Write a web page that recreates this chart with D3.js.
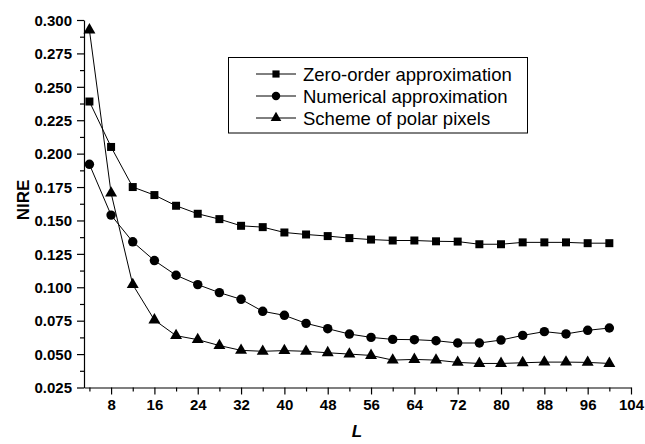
<!DOCTYPE html>
<html>
<head>
<meta charset="UTF-8">
<style>
  body { margin: 0; background: #fff; }
  svg { display: block; }
  text { font-family: "Liberation Sans", Arial, sans-serif; }
</style>
</head>
<body>
<svg></svg>
<script src="https://d3js.org/d3.v7.min.js"></script>
<script>

let width = 645, height = 444;

// data
let Lvals = [4, 8, 12, 16, 20, 24, 28, 32, 36, 40, 44, 48, 52, 56, 60, 64, 68, 72, 76, 80, 84, 88, 92, 96, 100];
let zeroOrder = [0.239, 0.205, 0.175, 0.169, 0.161, 0.155, 0.151, 0.146, 0.145, 0.141, 0.1395, 0.1383, 0.1368, 0.1357, 0.135, 0.135, 0.1344, 0.1342, 0.1322, 0.1322, 0.1336, 0.1336, 0.1336, 0.133, 0.133];
let numerical = [0.192, 0.154, 0.134, 0.120, 0.109, 0.102, 0.096, 0.091, 0.082, 0.079, 0.073, 0.069, 0.065, 0.0625, 0.061, 0.0608, 0.060, 0.0583, 0.0583, 0.0605, 0.064, 0.0668, 0.0651, 0.0678, 0.0695];
let polar = [0.2925, 0.1705, 0.102, 0.0755, 0.0638, 0.0608, 0.0564, 0.0528, 0.0521, 0.0526, 0.0521, 0.051, 0.050, 0.049, 0.0455, 0.046, 0.0455, 0.0438, 0.043, 0.043, 0.0435, 0.044, 0.044, 0.0438, 0.043];

let seriesNames = ["Zero-order approximation", "Numerical approximation", "Scheme of polar pixels"];
let xTicks = [8, 16, 24, 32, 40, 48, 56, 64, 72, 80, 88, 96, 104];
let xMinor = [4, 12, 20, 28, 36, 44, 52, 60, 68, 76, 84, 92, 100];
let yTicks = [0.025, 0.050, 0.075, 0.100, 0.125, 0.150, 0.175, 0.200, 0.225, 0.250, 0.275, 0.300];
let yMinor = [0.0375, 0.0625, 0.0875, 0.1125, 0.1375, 0.1625, 0.1875, 0.2125, 0.2375, 0.2625, 0.2875];

let svg = d3.select("svg")
    .attr("width", width)
    .attr("height", height);

let x = d3.scaleLinear().domain([3, 104]).range([84, 631]);
let y = d3.scaleLinear().domain([0.025, 0.300]).range([387.5, 20]);

// minor ticks first, then major axes on top
svg.append("g")
    .attr("transform", "translate(0,387.5)")
    .call(d3.axisBottom(x).tickValues(xMinor).tickSize(4).tickFormat(""))
    .call(g => g.select(".domain").remove());

svg.append("g")
    .attr("transform", "translate(84,0)")
    .call(d3.axisLeft(y).tickValues(yMinor).tickSize(4).tickFormat(""))
    .call(g => g.select(".domain").remove());

let xAxis = svg.append("g")
    .attr("transform", "translate(0,387.5)")
    .call(d3.axisBottom(x).tickValues(xTicks).tickSize(7).tickSizeOuter(0).tickPadding(5).tickFormat(d3.format("d")));

let yAxis = svg.append("g")
    .attr("transform", "translate(84,0)")
    .call(d3.axisLeft(y).tickValues(yTicks).tickSize(7).tickSizeOuter(0).tickPadding(5).tickFormat(d3.format(".3f")));

svg.selectAll(".tick line, .domain").attr("stroke", "#000").attr("stroke-width", 1.2);
svg.selectAll(".tick text")
    .attr("fill", "#000")
    .style("font-size", "15px")
    .style("font-weight", "bold")
    .style("font-family", "'Liberation Sans', Arial, sans-serif");
yAxis.selectAll(".tick text").attr("dy", "0.35em");

// axis titles
svg.append("text")
    .attr("transform", "translate(29,200) rotate(-90)")
    .attr("text-anchor", "middle")
    .style("font-size", "17px")
    .style("font-weight", "bold")
    .text("NIRE");

svg.append("text")
    .attr("x", 357)
    .attr("y", 437)
    .attr("text-anchor", "middle")
    .style("font-size", "17px")
    .style("font-weight", "bold")
    .style("font-style", "italic")
    .text("L");

let symbols = [d3.symbolSquare, d3.symbolCircle, d3.symbolTriangle];
let sizes = [64, 70, 62];
let allSeries = [zeroOrder, numerical, polar];

let line = d3.line()
    .x((d, i) => x(Lvals[i]))
    .y(d => y(d));

allSeries.forEach((vals, k) => {
  svg.append("path")
      .datum(vals)
      .attr("d", line)
      .attr("fill", "none")
      .attr("stroke", "#000")
      .attr("stroke-width", 1);

  svg.append("g")
      .selectAll("path")
      .data(vals)
      .enter()
      .append("path")
      .attr("transform", (d, i) => "translate(" + x(Lvals[i]) + "," + y(d) + ")")
      .attr("d", d3.symbol().type(symbols[k]).size(sizes[k]))
      .attr("fill", "#000");
});

// legend
let legend = svg.append("g");
legend.append("rect")
    .attr("x", 228.5)
    .attr("y", 57.5)
    .attr("width", 299)
    .attr("height", 75.5)
    .attr("fill", "#fff")
    .attr("stroke", "#000")
    .attr("stroke-width", 1);

seriesNames.forEach((name, k) => {
  let ly = 74 + k * 22;
  legend.append("line")
      .attr("x1", 256).attr("x2", 296)
      .attr("y1", ly).attr("y2", ly)
      .attr("stroke", "#000");
  legend.append("path")
      .attr("transform", "translate(276," + ly + ")")
      .attr("d", d3.symbol().type(symbols[k]).size(sizes[k] * 0.8))
      .attr("fill", "#000");
  legend.append("text")
      .attr("x", 303)
      .attr("y", ly)
      .attr("dy", "0.36em")
      .style("font-size", "18.5px")
      .text(name);
});

</script>
</body>
</html>
